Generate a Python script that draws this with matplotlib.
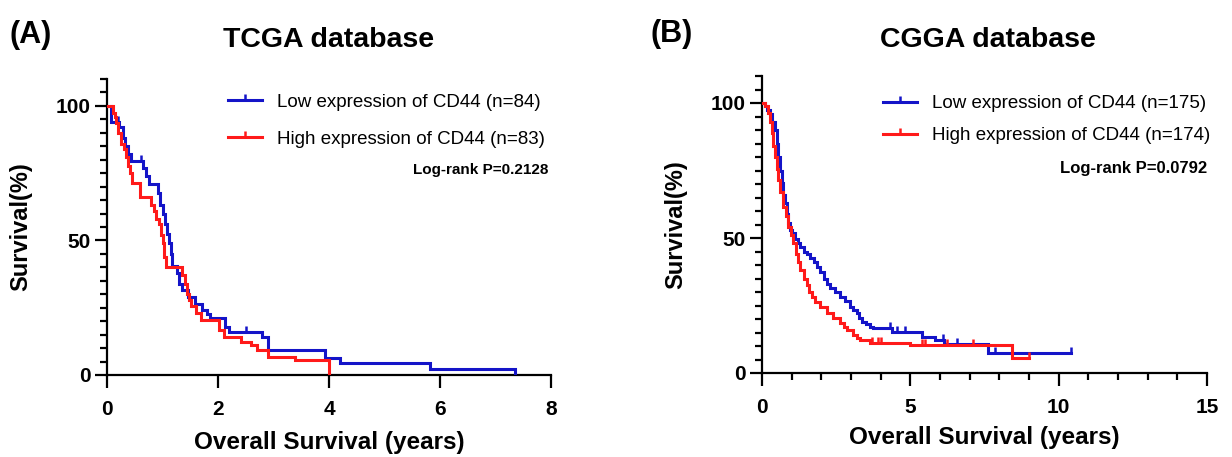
import numpy as np
import matplotlib
matplotlib.use('Agg')
import matplotlib.pyplot as plt
from matplotlib.path import Path
from matplotlib.lines import Line2D
from matplotlib.ticker import MultipleLocator

plt.rcParams['font.family'] = ['Liberation Sans', 'DejaVu Sans']

# ---- TCGA: low CD44 (blue) ----
tcga_low_t = [0, 0.08, 0.22, 0.28, 0.33, 0.38, 0.44, 0.65, 0.70, 0.75, 0.92, 0.96,
              1.00, 1.04, 1.08, 1.12, 1.15, 1.18, 1.27, 1.30, 1.36, 1.46, 1.58,
              1.72, 1.80, 1.85, 2.12, 2.19, 2.80, 2.90, 3.93, 4.20, 5.82, 7.35]
tcga_low_s = [100, 94, 92, 88, 85, 82, 79.5, 77, 74, 71, 67.5, 63,
              60, 56, 52.5, 49, 45, 40.5, 38, 34, 31.5, 29, 26.5,
              24, 22.6, 21, 18, 16, 14.3, 9.3, 6.2, 4.3, 2.1, 0]
tcga_low_end = 7.35
tcga_low_cens = [0.2, 0.62, 2.5]

# ---- TCGA: high CD44 (red) ----
tcga_high_t = [0, 0.10, 0.15, 0.17, 0.20, 0.26, 0.30, 0.34, 0.38, 0.41, 0.45, 0.60,
               0.80, 0.85, 0.88, 0.93, 0.97, 1.00, 1.03, 1.07, 1.35, 1.40, 1.44,
               1.47, 1.52, 1.60, 1.69, 2.02, 2.10, 2.42, 2.60, 2.70, 2.90, 3.39, 4.00]
tcga_high_s = [100, 97.5, 96, 93.7, 90, 86, 84, 81, 77.5, 75, 71.3, 66.3,
               63, 61, 58, 56, 52, 49, 44, 40.3, 37, 34, 30,
               27.9, 25.5, 23, 20.4, 16.7, 14.2, 12.4, 11.1, 9.3, 6.8, 5.6, 0]
tcga_high_end = 4.0
tcga_high_cens = []

# ---- CGGA: low CD44 (blue) ----
cgga_low_t = [0, 0.10, 0.18, 0.27, 0.35, 0.44, 0.50, 0.55, 0.60, 0.66, 0.72, 0.78,
              0.84, 0.89, 0.95, 1.00, 1.10, 1.20, 1.28, 1.40, 1.50, 1.62, 1.75,
              1.84, 1.96, 2.10, 2.20, 2.29, 2.45, 2.63, 2.80, 2.97, 3.08, 3.19,
              3.28, 3.36, 3.50, 3.64, 3.74, 4.38, 5.39, 5.84, 6.12, 7.63]
cgga_low_s = [100, 99, 97.5, 96, 93, 90, 85, 80, 75, 70.3, 66, 63,
              59, 55.4, 53, 51.7, 49.5, 48, 46.8, 45, 44, 42.5, 41,
              39.4, 37.5, 35, 33, 31.4, 30, 28.3, 26.5, 24.6, 23.4, 22.1,
              20.5, 19, 18, 17.1, 16.5, 15.3, 13.4, 12.2, 10.7, 7.3]
cgga_low_end = 10.4
cgga_low_cens = [4.31, 4.54, 4.82, 6.1, 6.56, 7.85, 10.4]

# ---- CGGA: high CD44 (red) ----
cgga_high_t = [0, 0.10, 0.21, 0.27, 0.33, 0.38, 0.44, 0.50, 0.55, 0.62, 0.72, 0.80,
               0.89, 0.97, 1.06, 1.15, 1.22, 1.28, 1.40, 1.50, 1.60, 1.70, 1.80,
               1.96, 2.18, 2.40, 2.63, 2.75, 2.85, 3.07, 3.20, 3.30, 3.64, 5.00, 8.42]
cgga_high_s = [100, 99, 96.3, 93, 88.8, 84, 80, 75.5, 71.5, 67, 61.6, 58,
               54.2, 51, 48, 44, 41, 38.1, 35, 32.5, 30, 28, 26.3,
               24.6, 22.1, 20.2, 18.4, 17, 15.9, 14, 13, 12.2, 11.2, 10.2, 5.4]
cgga_high_end = 9.0
cgga_high_cens = [3.7, 3.9, 4.0, 5.4, 5.5, 6.25, 7.12, 9.0]

BLUE = '#1414c8'
RED = '#ff1a1a'
tick_up = Path([(0, 0), (0, 1)], [Path.MOVETO, Path.LINETO])


def km(ax, t, s, end, cens, color):
    t = np.asarray(t, float)
    s = np.asarray(s, float)
    ax.step(np.append(t, end), np.append(s, s[-1]), where='post', color=color, lw=2.2,
            solid_joinstyle='miter', zorder=3)
    if len(cens):
        cens = np.asarray(cens, float)
        idx = np.searchsorted(t, cens, side='right') - 1
        ax.plot(cens, s[idx], linestyle='none', marker=tick_up, markersize=8,
                markeredgewidth=1.8, color=color, zorder=3)


def style(ax, xmax, xmajor, xminor):
    ax.set_xlim(0, xmax)
    ax.set_ylim(0, 110)
    for sp in ['top', 'right']:
        ax.spines[sp].set_visible(False)
    for sp in ['left', 'bottom']:
        ax.spines[sp].set_linewidth(1.6)
        ax.spines[sp].set_capstyle('projecting')
    ax.xaxis.set_major_locator(MultipleLocator(xmajor))
    if xminor:
        ax.xaxis.set_minor_locator(MultipleLocator(xminor))
    ax.yaxis.set_major_locator(MultipleLocator(50))
    ax.yaxis.set_minor_locator(MultipleLocator(5))
    ax.tick_params(axis='both', which='major', length=9, width=1.6, labelsize=15)
    ax.tick_params(axis='both', which='minor', length=5, width=1.6)
    ax.tick_params(axis='x', which='major', pad=9)
    ax.tick_params(axis='y', which='major', pad=3)
    for lab in ax.get_xticklabels() + ax.get_yticklabels():
        lab.set_fontweight('bold')
    ax.set_xlabel('Overall Survival (years)', fontsize=17.5, fontweight='bold')
    ax.set_ylabel('Survival(%)', fontsize=17, fontweight='bold')
    ax.yaxis.set_label_coords(-0.169, 0.5)


fig = plt.figure(figsize=(12.32, 4.57), dpi=100)
ax1 = fig.add_axes([107 / 1232, 1 - 375 / 457, 444 / 1232, 296 / 457])
ax2 = fig.add_axes([762 / 1232, 1 - 373 / 457, 445 / 1232, 297 / 457])

km(ax1, tcga_low_t, tcga_low_s, tcga_low_end, tcga_low_cens, BLUE)
km(ax1, tcga_high_t, tcga_high_s, tcga_high_end, tcga_high_cens, RED)
style(ax1, 8, 2, None)
ax1.xaxis.set_label_coords(0.5, -0.19)

km(ax2, cgga_low_t, cgga_low_s, cgga_low_end, cgga_low_cens, BLUE)
km(ax2, cgga_high_t, cgga_high_s, cgga_high_end, cgga_high_cens, RED)
style(ax2, 15, 5, 1)
ax2.xaxis.set_label_coords(0.5, -0.178)


def legend(ax, labels, anchor, spacing):
    handles = [Line2D([], [], color=BLUE, lw=2.2, marker=tick_up, markersize=8, markeredgewidth=1.8),
               Line2D([], [], color=RED, lw=2.2, marker=tick_up, markersize=8, markeredgewidth=1.8)]
    ax.legend(handles, labels, loc='upper left', bbox_to_anchor=anchor, frameon=False,
              fontsize=13.5, handlelength=1.8, handletextpad=0.8, labelspacing=spacing,
              borderpad=0, borderaxespad=0, numpoints=1)


legend(ax1, ['Low expression of CD44 (n=84)', 'High expression of CD44 (n=83)'],
       (0.2725, 0.951), 1.06)
legend(ax2, ['Low expression of CD44 (n=175)', 'High expression of CD44 (n=174)'],
       (0.272, 0.936), 0.81)

ax1.text(0.993, 0.693, 'Log-rank P=0.2128', transform=ax1.transAxes, ha='right', va='center',
         fontsize=11, fontweight='bold')
ax2.text(1.0, 0.69, 'Log-rank P=0.0792', transform=ax2.transAxes, ha='right', va='center',
         fontsize=12, fontweight='bold')

fig.text(10 / 1232, 1 - 43 / 457, '(A)', fontsize=22, fontweight='bold', ha='left', va='baseline')
fig.text(650 / 1232, 1 - 42 / 457, '(B)', fontsize=22, fontweight='bold', ha='left', va='baseline')
fig.text(329 / 1232, 1 - 47 / 457, 'TCGA database', fontsize=20.5, fontweight='bold', ha='center', va='baseline')
fig.text(988 / 1232, 1 - 47 / 457, 'CGGA database', fontsize=20.5, fontweight='bold', ha='center', va='baseline')

fig.savefig('out.png', dpi=100)
